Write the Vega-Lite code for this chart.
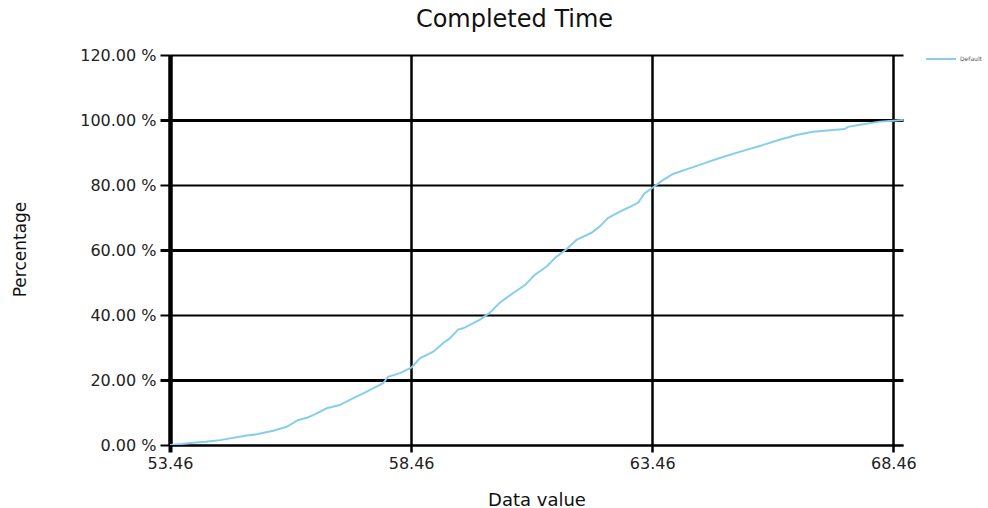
{
  "$schema": "https://vega.github.io/schema/vega-lite/v6.json",
  "width": 733,
  "height": 390,
  "autosize": "none",
  "padding": {"left": 170, "top": 55, "right": 85, "bottom": 63},
  "background": "white",
  "config": {"view": {"stroke": null}},
  "title": {
    "text": "Completed Time",
    "font": "DejaVu Sans",
    "fontSize": 24,
    "fontWeight": "normal",
    "color": "#111",
    "anchor": "middle",
    "frame": "group",
    "baseline": "bottom",
    "offset": -13,
    "dx": -22
  },
  "data": {
    "values": [
      {"v": 53.46, "p": 0},
      {"v": 53.70, "p": 0.3},
      {"v": 53.94, "p": 0.7},
      {"v": 54.20, "p": 1.0},
      {"v": 54.50, "p": 1.5},
      {"v": 54.84, "p": 2.4},
      {"v": 55.05, "p": 2.9},
      {"v": 55.26, "p": 3.3},
      {"v": 55.45, "p": 3.9},
      {"v": 55.60, "p": 4.4},
      {"v": 55.88, "p": 5.6},
      {"v": 56.12, "p": 7.7},
      {"v": 56.30, "p": 8.4},
      {"v": 56.43, "p": 9.2},
      {"v": 56.71, "p": 11.3},
      {"v": 56.98, "p": 12.3},
      {"v": 57.26, "p": 14.4},
      {"v": 57.47, "p": 15.9},
      {"v": 57.67, "p": 17.4},
      {"v": 57.88, "p": 19.0},
      {"v": 57.98, "p": 21.0},
      {"v": 58.23, "p": 22.1},
      {"v": 58.47, "p": 23.9},
      {"v": 58.64, "p": 26.7},
      {"v": 58.92, "p": 28.7},
      {"v": 59.12, "p": 31.3},
      {"v": 59.26, "p": 32.8},
      {"v": 59.44, "p": 35.6},
      {"v": 59.54, "p": 35.9},
      {"v": 59.88, "p": 38.5},
      {"v": 60.09, "p": 40.7},
      {"v": 60.30, "p": 43.8},
      {"v": 60.57, "p": 46.7},
      {"v": 60.82, "p": 49.2},
      {"v": 61.02, "p": 52.3},
      {"v": 61.27, "p": 54.9},
      {"v": 61.47, "p": 57.9},
      {"v": 61.68, "p": 60.2},
      {"v": 61.89, "p": 63.1},
      {"v": 62.20, "p": 65.3},
      {"v": 62.37, "p": 67.2},
      {"v": 62.54, "p": 69.8},
      {"v": 62.79, "p": 71.8},
      {"v": 63.00, "p": 73.3},
      {"v": 63.17, "p": 74.6},
      {"v": 63.30, "p": 77.4},
      {"v": 63.48, "p": 79.3},
      {"v": 63.68, "p": 81.5},
      {"v": 63.89, "p": 83.4},
      {"v": 64.17, "p": 84.8},
      {"v": 64.44, "p": 86.2},
      {"v": 64.86, "p": 88.3},
      {"v": 65.27, "p": 90.2},
      {"v": 65.69, "p": 92.0},
      {"v": 66.10, "p": 93.9},
      {"v": 66.45, "p": 95.4},
      {"v": 66.79, "p": 96.4},
      {"v": 67.45, "p": 97.2},
      {"v": 67.52, "p": 97.9},
      {"v": 67.83, "p": 98.7},
      {"v": 68.18, "p": 99.5},
      {"v": 68.45, "p": 99.8},
      {"v": 68.66, "p": 100}
    ]
  },
  "mark": {"type": "line", "strokeWidth": 2, "interpolate": "linear", "clip": true},
  "encoding": {
    "x": {
      "field": "v",
      "type": "quantitative",
      "scale": {"domain": [53.46, 68.66], "nice": false, "zero": false},
      "axis": {
        "title": "Data value",
        "values": [53.46, 58.46, 63.46, 68.46],
        "format": ".2f",
        "grid": true,
        "gridColor": "black",
        "gridOpacity": 1,
        "gridWidth": {"condition": {"test": "datum.value < 54", "value": 4}, "value": 2.5},
        "domain": true,
        "domainColor": "black",
        "domainWidth": 2,
        "ticks": true,
        "tickColor": "black",
        "tickSize": 7,
        "tickWidth": {"condition": {"test": "datum.value < 54", "value": 4}, "value": 2.5},
        "labelFont": "DejaVu Sans",
        "labelFontSize": 16,
        "labelColor": "#222",
        "labelPadding": 3,
        "labelFlush": false,
        "labelOverlap": false,
        "titleFont": "DejaVu Sans",
        "titleFontSize": 18,
        "titleFontWeight": "normal",
        "titleColor": "#111",
        "titleBaseline": "alphabetic",
        "titleY": 60
      }
    },
    "y": {
      "field": "p",
      "type": "quantitative",
      "scale": {"domain": [0, 120], "nice": false},
      "axis": {
        "title": "Percentage",
        "values": [0, 20, 40, 60, 80, 100, 120],
        "labelExpr": "format(datum.value, '.2f') + ' %'",
        "grid": true,
        "gridColor": "black",
        "gridOpacity": 1,
        "gridWidth": {"condition": {"test": "datum.value % 40 == 20", "value": 3}, "value": 2},
        "domain": true,
        "domainColor": "black",
        "domainWidth": 4,
        "ticks": true,
        "tickColor": "black",
        "tickSize": 10,
        "tickWidth": {"condition": {"test": "datum.value % 40 == 20", "value": 3}, "value": 2},
        "labelFont": "DejaVu Sans",
        "labelFontSize": 16,
        "labelColor": "#222",
        "labelPadding": 4,
        "labelFlush": false,
        "labelOverlap": false,
        "titleFont": "DejaVu Sans",
        "titleFontSize": 17,
        "titleFontWeight": "normal",
        "titleColor": "#111",
        "titleBaseline": "middle",
        "titleX": -150,
        "titleY": 194
      }
    },
    "color": {
      "datum": "Default",
      "type": "nominal",
      "scale": {"range": ["#87CEEB"]},
      "legend": {
        "title": null,
        "orient": "none",
        "legendX": 755,
        "legendY": -12,
        "padding": 0,
        "symbolType": "stroke",
        "symbolSize": 900,
        "symbolStrokeWidth": 2,
        "labelFont": "DejaVu Sans",
        "labelFontSize": 6,
        "labelColor": "#555",
        "labelOffset": 3
      }
    }
  }
}
